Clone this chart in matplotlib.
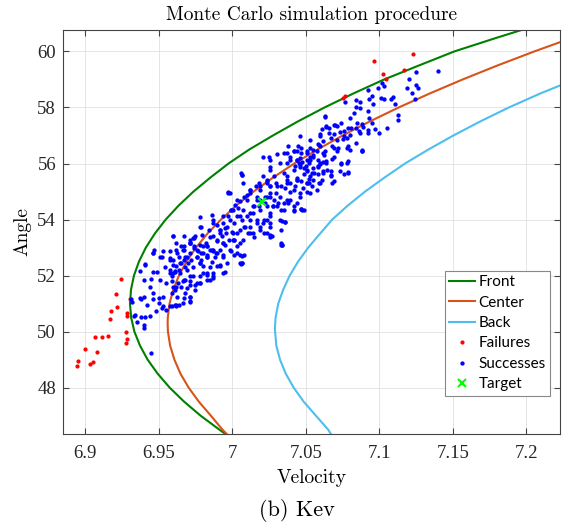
import matplotlib.pyplot as plt

# boundary curves: angle -> velocity
front_angle = [46.35, 46.5, 47, 47.5, 48, 48.5, 49, 49.5, 50, 50.5, 51, 51.5, 52, 52.5,
               53, 53.5, 54, 54.5, 55, 55.5, 56, 56.5, 57, 57.5, 58, 58.5, 59, 59.5,
               60, 60.5, 60.77]
front_vel = [6.9953, 6.9913, 6.9785, 6.9673, 6.9575, 6.9493, 6.9425, 6.9373, 6.9335, 6.9313,
             6.9305, 6.9312, 6.9332, 6.9366, 6.9413, 6.9474, 6.9548, 6.9636, 6.9737, 6.9852,
             6.9975, 7.0116, 7.0277, 7.0446, 7.0628, 7.0824, 7.1033, 7.1270, 7.1510, 7.1805,
             7.1970]

center_angle = [46.35, 46.5, 47, 47.5, 48, 48.5, 49, 49.5, 50, 50.3, 50.5, 51, 51.5, 52,
                52.5, 53, 53.5, 54, 54.5, 55, 55.5, 56, 56.5, 57, 57.5, 58, 58.5, 59,
                59.5, 60, 60.5]
center_vel = [6.9962, 6.9934, 6.9855, 6.9773, 6.9704, 6.9648, 6.9607, 6.9578, 6.9563, 6.9561,
              6.9562, 6.9574, 6.9599, 6.9638, 6.9689, 6.9754, 6.9832, 6.9924, 7.0028, 7.0146,
              7.0278, 7.0422, 7.0580, 7.0751, 7.0935, 7.1132, 7.1343, 7.1567, 7.1804, 7.2054,
              7.2318]

back_angle = [46.35, 46.5, 47, 47.5, 48, 48.5, 49, 49.5, 50.1, 50.5, 51, 51.5, 52, 52.5,
              53, 53.5, 54, 54.5, 55, 55.5, 56, 56.5, 57, 57.5, 58, 58.5, 59]
back_vel = [7.0670, 7.0653, 7.0569, 7.0486, 7.0418, 7.0364, 7.0325, 7.0300, 7.0290, 7.0295,
            7.0313, 7.0347, 7.0391, 7.0448, 7.0517, 7.0598, 7.0680, 7.0786, 7.0904, 7.1036,
            7.1175, 7.1334, 7.1504, 7.1686, 7.1881, 7.2095, 7.2330]

# failed runs
fail_vel = [6.8948, 6.8952, 6.9000, 6.9032, 6.9054, 6.9082, 6.9068, 6.9112, 6.9157, 6.9168,
            6.9173, 6.9207, 6.9218, 6.9241, 6.9286, 6.9286, 6.9277, 6.9286, 6.9275, 6.9305,
            7.0962, 7.1230, 7.1026, 7.1046, 7.1166, 7.0751, 7.0769]
fail_ang = [48.79, 48.96, 49.38, 48.85, 48.91, 49.29, 49.82, 49.82, 49.86, 50.44,
            50.75, 51.35, 50.87, 51.87, 50.57, 50.68, 50.00, 49.74, 49.59, 51.18,
            59.66, 59.92, 59.21, 59.02, 59.32, 58.35, 58.41]

# successful runs
succ_vel = [
    # lower tail
    6.947, 6.953, 6.946, 6.958, 6.962, 6.967, 6.971, 6.974, 6.978, 6.964,
    6.958, 6.952, 6.941, 6.937, 6.946, 6.949, 6.940, 6.945, 6.951, 6.955,
    6.958, 6.961, 6.964, 6.968, 6.970, 6.972, 6.976, 6.979, 6.983, 6.986,
    6.989, 6.994, 7.001, 7.007, 7.006, 6.995, 6.987, 6.983, 6.978, 6.975,
    6.971, 6.967, 6.963, 6.960, 6.944, 6.946, 6.940, 6.937, 6.938, 6.942,
    6.946, 6.950, 6.953, 6.950, 6.953, 6.955, 6.959, 6.962, 6.964, 6.971,
    6.971, 6.959, 6.961, 6.931, 6.932, 6.934, 6.933, 6.935, 6.938, 6.941,
    6.944, 6.948, 6.952, 6.940, 6.945, 6.940, 6.962,
    # lower body
    6.960, 6.961, 6.962, 6.959, 6.965, 6.968, 6.967, 6.971, 6.975, 6.974,
    6.977, 6.979, 6.980, 6.983, 6.985, 6.978, 6.971, 6.968, 6.965, 6.969,
    6.967, 6.971, 6.962, 6.958, 6.976, 6.980, 6.982, 6.987, 6.988, 6.990,
    6.992, 6.994, 6.986, 6.983, 6.992, 6.995, 6.999, 7.003, 7.005, 7.007,
    7.001, 6.996, 6.992, 6.987, 6.979, 6.987, 6.990, 6.993, 6.984,
    # middle body
    6.997, 6.999, 7.002, 7.005, 7.003, 7.007, 7.009, 7.011, 7.012, 7.014,
    7.017, 7.021, 7.026, 7.033, 7.026, 7.018, 7.019, 7.022, 7.026, 7.028,
    7.031, 7.035, 7.038, 7.042, 7.047, 7.030, 7.033, 7.036, 7.037, 7.039,
    7.043, 7.044, 7.047, 7.048, 7.051, 7.052, 7.053, 7.054, 7.026, 7.024,
    7.021, 7.016, 7.012, 7.010, 7.008, 7.004, 7.001, 6.997, 6.994, 6.995,
    7.000, 7.014, 7.019, 7.024, 7.033, 7.006, 7.026, 7.021, 7.026,
    # upper body
    7.037, 7.039, 7.042, 7.044, 7.045, 7.047, 7.050, 7.053, 7.053, 7.055,
    7.058, 7.059, 7.060, 7.062, 7.064, 7.066, 7.068, 7.069, 7.071, 7.071,
    7.073, 7.076, 7.078, 7.078, 7.080, 7.081, 7.084, 7.085, 7.087, 7.088,
    7.089, 7.092, 7.070, 7.064, 7.058, 7.052, 7.046, 7.062, 7.067, 7.073,
    # top end
    7.102, 7.099, 7.103, 7.092, 7.120, 7.119, 7.125, 7.126, 7.122, 7.124,
    7.140, 7.125, 7.084, 7.087, 7.093, 7.095, 7.096, 7.101, 7.103, 7.109,
    7.108, 7.111, 7.113, 7.113, 7.105, 7.100, 7.097, 7.095, 7.093, 7.092,
    7.087, 7.084, 7.083, 7.080, 7.077, 7.074, 7.071, 7.069, 7.066, 7.063,
    7.064, 7.061, 7.060, 7.069, 7.075, 7.078, 7.079, 7.084, 7.088, 7.092,
    7.086, 7.076, 7.067, 7.062, 7.058, 7.053, 7.051, 7.047, 7.055, 7.063,
    7.069, 7.072, 7.079, 7.080, 7.088, 7.074, 7.079, 7.079, 7.068, 7.064,
    7.060, 7.055, 7.051, 7.049, 7.052, 7.058, 7.062, 7.067, 7.069, 7.059,
    7.054, 7.076,
    # extra fill
    6.941, 6.946, 6.951, 6.960, 6.967, 6.971, 6.974, 6.978, 6.986, 6.990,
    6.997, 6.999, 7.007, 6.992, 6.983, 6.976, 6.962, 6.958, 6.967, 6.960,
    6.965, 6.971, 6.954, 6.978, 6.983, 6.987, 6.994, 7.001,
    7.012, 7.017, 7.024, 7.028, 7.033, 7.037, 7.042, 7.044, 7.046, 7.051,
    7.055, 7.060, 7.037, 7.030, 7.024, 7.019, 7.014, 7.010, 7.024, 7.019,
    7.026, 7.034, 7.008, 7.003, 6.998, 7.005, 7.012, 7.042, 7.046, 7.051,
    7.055, 7.051, 7.058, 7.062, 7.044, 7.042, 7.035, 7.038, 7.046, 7.063,
    7.088, 7.079, 7.034, 7.034, 7.042, 7.047, 7.068, 7.074, 7.067, 7.060,
    7.036, 7.033, 7.027, 7.007, 7.008,
    # dense core, upper half
    7.0247, 7.0303, 7.0372, 7.0440, 7.0508, 7.0576, 7.0621, 7.0258, 7.0326, 7.0394,
    7.0462, 7.0530, 7.0599, 7.0644, 7.0281, 7.0349, 7.0417, 7.0485, 7.0553, 7.0610,
    7.0235, 7.0303, 7.0372, 7.0440, 7.0508, 7.0576, 7.0190, 7.0258, 7.0326, 7.0394,
    7.0462, 7.0530, 7.0451, 7.0428, 7.0474,
    # dense core, middle
    6.9986, 7.0065, 7.0076, 7.0122, 7.0031, 7.0099, 7.0167, 7.0145, 7.0076, 7.0008,
    6.9940, 6.9986, 7.0054, 7.0122, 7.0190, 7.0235, 7.0258, 7.0303, 7.0349, 7.0394,
    7.0440, 7.0485, 7.0326, 7.0258, 7.0213, 7.0167, 7.0122, 7.0054, 7.0008, 6.9963,
    6.9918, 6.9872, 6.9849, 6.9895, 6.9940, 7.0008, 7.0076, 7.0145, 7.0213, 7.0258,
    7.0360, 7.0474, 7.0281, 7.0224, 7.0179, 7.0258,
    # dense core, lower half
    6.9781, 6.9793, 6.9736, 6.9713, 6.9668, 6.9622, 6.9600, 6.9645, 6.9691, 6.9759,
    6.9804, 6.9849, 6.9895, 6.9940, 6.9986, 7.0031, 6.9827, 6.9781, 6.9736, 6.9691,
    6.9645, 6.9600, 6.9668, 6.9736, 6.9804, 6.9849, 6.9918, 6.9963, 6.9872, 6.9827,
    6.9781, 6.9713, 6.9747, 6.9679, 6.9622, 6.9668, 6.9611, 6.9713, 7.0054, 6.9872,
    6.9577, 6.9588,
]
succ_ang = [
    # lower tail
    52.92, 52.89, 52.80, 52.86, 53.16, 52.92, 53.16, 52.98, 53.10, 52.68,
    52.62, 52.68, 52.39, 52.18, 52.14, 52.12, 51.85, 51.87, 51.85, 51.75,
    52.08, 52.14, 52.20, 52.32, 52.44, 52.56, 52.68, 52.80, 52.74, 52.92,
    52.80, 52.74, 52.74, 52.70, 52.42, 52.12, 51.97, 52.08, 51.73, 51.67,
    51.79, 51.85, 51.73, 51.61, 51.61, 51.37, 51.25, 51.19, 51.16, 50.95,
    51.16, 51.19, 51.25, 51.01, 50.92, 50.78, 50.90, 50.92, 50.95, 51.25,
    51.05, 51.37, 51.49, 51.16, 51.07, 50.60, 50.56, 50.36, 50.51, 50.51,
    50.54, 50.72, 50.84, 50.12, 49.25, 50.24, 51.61,
    # lower body
    53.40, 52.15, 52.33, 51.97, 52.44, 52.68, 53.04, 53.28, 53.40, 53.04,
    52.86, 52.56, 52.33, 52.03, 51.85, 51.97, 51.97, 51.85, 51.61, 51.55,
    51.19, 51.08, 50.96, 50.90, 51.73, 52.80, 53.16, 52.92, 52.68, 52.33,
    52.33, 52.09, 52.50, 53.04, 52.92, 53.10, 52.86, 53.04, 52.74, 52.44,
    53.28, 53.52, 53.63, 53.99, 53.75, 53.40, 53.22, 53.40, 53.63,
    # middle body
    54.94, 54.35, 54.53, 54.65, 54.11, 53.99, 53.75, 53.52, 53.99, 54.23,
    53.99, 53.87, 53.75, 53.63, 54.11, 54.47, 54.70, 54.59, 54.82, 54.47,
    54.59, 54.35, 54.59, 54.47, 54.37, 54.94, 55.18, 55.12, 55.42, 55.30,
    55.18, 55.48, 55.36, 55.12, 55.00, 55.30, 55.54, 55.66, 55.18, 55.36,
    55.54, 55.18, 55.06, 54.88, 54.82, 54.41, 53.87, 54.11, 53.87, 53.69,
    53.57, 53.52, 53.63, 53.52, 53.16, 55.66, 55.78, 56.25, 56.13,
    # upper body
    56.01, 56.25, 56.43, 56.13, 56.61, 56.37, 55.90, 56.25, 56.85, 56.49,
    56.13, 56.67, 56.97, 56.37, 56.01, 57.09, 56.61, 56.25, 56.43, 56.85,
    57.14, 56.97, 56.55, 56.01, 57.03, 57.26, 56.73, 57.44, 57.09, 56.49,
    57.32, 57.20, 57.38, 57.32, 55.90, 56.01, 55.95, 55.66, 55.72, 55.72,
    # top end
    58.88, 58.68, 58.76, 58.64, 59.00, 58.68, 58.80, 58.68, 58.53, 58.32,
    59.29, 59.26, 58.25, 58.20, 58.29, 58.41, 58.11, 58.35, 58.32, 58.37,
    58.32, 58.11, 57.73, 57.57, 57.25, 57.10, 57.22, 57.45, 57.63, 57.87,
    57.97, 58.01, 57.80, 57.63, 58.20, 57.45, 57.34, 57.37, 57.28, 57.66,
    57.34, 57.22, 57.04, 57.04, 56.86, 56.92, 57.28, 57.28, 57.40, 57.10,
    57.16, 57.16, 56.92, 56.80, 56.68, 56.56, 56.44, 56.56, 56.32, 56.44,
    56.56, 56.56, 56.62, 56.50, 56.44, 55.99, 56.09, 55.67, 56.15, 56.09,
    55.97, 55.85, 55.73, 55.61, 55.43, 55.61, 55.73, 55.55, 55.37, 55.31,
    55.19, 55.61,
    # extra fill
    52.42, 52.80, 52.68, 53.42, 53.40, 53.16, 53.34, 54.09, 54.17, 53.81,
    54.97, 54.35, 55.60, 53.52, 53.04, 52.68, 52.92, 52.56, 52.56, 52.39,
    53.04, 52.80, 52.32, 52.44, 52.68, 52.86, 53.16, 53.28,
    54.94, 54.70, 54.82, 54.47, 54.35, 54.70, 55.06, 55.42, 55.89, 56.13,
    56.25, 56.61, 55.54, 55.30, 55.42, 55.18, 54.47, 54.11, 53.99, 53.75,
    53.46, 53.10, 53.75, 53.52, 53.28, 53.16, 53.52, 54.35, 54.82, 55.30,
    55.42, 55.78, 55.89, 56.07, 56.13, 56.43, 56.37, 56.61, 56.97, 57.68,
    56.46, 55.68, 53.96, 53.10, 54.32, 54.37, 55.30, 56.01, 55.60, 55.30,
    53.93, 53.10, 53.42, 52.44, 52.74,
    # dense core, upper half
    56.25, 56.35, 56.39, 56.43, 56.37, 56.43, 56.31, 55.89, 56.01, 56.13,
    56.19, 56.13, 56.01, 55.78, 55.54, 55.66, 55.78, 55.83, 55.66, 55.42,
    55.30, 55.18, 55.30, 55.42, 55.30, 55.06, 55.06, 54.94, 54.82, 55.00,
    54.94, 54.94, 56.01, 55.92, 56.07,
    # dense core, middle
    54.94, 55.60, 55.30, 55.06, 54.70, 54.70, 54.82, 54.47, 54.35, 54.35,
    54.11, 53.99, 54.11, 54.23, 54.35, 54.47, 54.23, 54.47, 54.59, 54.70,
    54.59, 54.35, 53.99, 53.87, 53.99, 53.87, 53.75, 53.63, 53.51, 53.75,
    53.63, 53.87, 53.39, 53.28, 53.16, 53.28, 53.28, 53.39, 53.51, 53.39,
    53.93, 54.35, 54.70, 54.82, 55.30, 55.18,
    # dense core, lower half
    53.75, 53.45, 53.34, 53.16, 52.92, 52.80, 52.56, 52.44, 52.68, 52.92,
    53.04, 52.92, 52.80, 52.68, 52.92, 52.80, 52.68, 52.44, 52.32, 52.20,
    52.09, 52.09, 51.79, 51.97, 52.09, 52.32, 52.38, 52.44, 52.09, 51.85,
    51.73, 51.67, 51.49, 51.37, 51.25, 51.01, 50.96, 51.25, 52.44, 51.91,
    52.20, 51.79,
]

target_vel = [7.020]
target_ang = [54.61]

fig = plt.figure(figsize=(5.63, 5.24), dpi=100)
ax = fig.add_axes([0.112, 0.172, 0.883, 0.771])

ax.plot(front_vel, front_angle, color='#008000', lw=1.5, label='Front')
ax.plot(center_vel, center_angle, color='#D95319', lw=1.5, label='Center')
ax.plot(back_vel, back_angle, color='#4DBEEE', lw=1.5, label='Back')
ax.plot(fail_vel, fail_ang, '.', color='red', ms=4, label='Failures')
ax.plot(succ_vel, succ_ang, '.', color='blue', ms=4.2, label='Successes')
ax.plot(target_vel, target_ang, 'x', color='#00FF00', ms=6, mew=1.5, label='Target')

ax.set_xlim(6.885, 7.223)
ax.set_ylim(46.35, 60.77)
ax.set_xticks([6.9, 6.95, 7, 7.05, 7.1, 7.15, 7.2])
ax.set_xticklabels(['6.9', '6.95', '7', '7.05', '7.1', '7.15', '7.2'])
ax.set_yticks([48, 50, 52, 54, 56, 58, 60])

ax.grid(True, color='#E0E0E0', lw=0.6)
ax.set_axisbelow(True)
ax.tick_params(direction='in', top=True, right=True, length=4, color='#444444',
               labelsize=13.5, labelcolor='#262626')
ax.tick_params(axis='x', pad=8)
ax.tick_params(axis='y', pad=5)
for lab in ax.get_xticklabels() + ax.get_yticklabels():
    lab.set_family('Liberation Serif')
for s in ax.spines.values():
    s.set_color('#444444')
    s.set_linewidth(0.8)

ax.set_title('Monte Carlo simulation procedure', family='cmr10', fontsize=14, pad=7)
ax.set_xlabel('Velocity', family='cmr10', fontsize=14, labelpad=5)
ax.set_ylabel('Angle', family='cmr10', fontsize=14, labelpad=4)

# legend with short line handles
leg = ax.legend(loc='lower right', bbox_to_anchor=(0.98, 0.094), frameon=True,
                fancybox=False, framealpha=1, edgecolor='#888888',
                prop={'family': 'Lato', 'size': 11}, handlelength=1.7,
                handletextpad=0.2, labelspacing=0.42, borderpad=0.3,
                borderaxespad=0, markerscale=1.0)
leg.get_frame().set_linewidth(0.8)

fig.text(0.528, 0.004, '(b) Kev', ha='center', va='bottom', family='cmr10', fontsize=16)

fig.savefig('out.png', dpi=100)
